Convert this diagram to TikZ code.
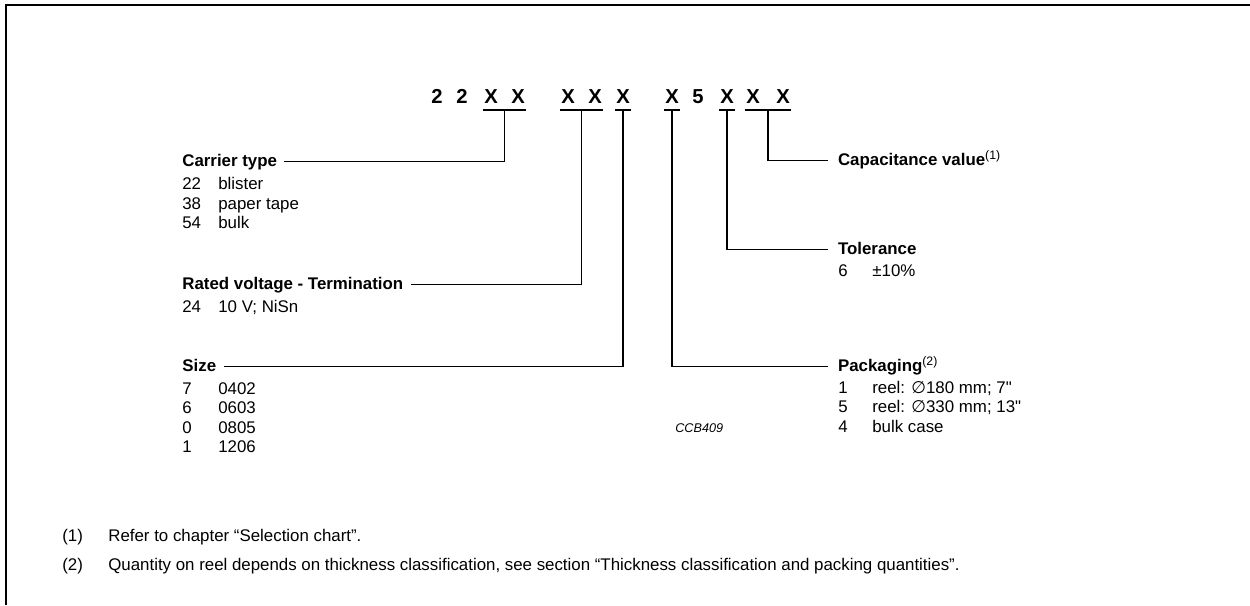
\documentclass[tikz,border=0pt]{standalone}
\usepackage{fontspec}
\setmainfont{Liberation Sans}[Ligatures=TeXOff]
\newfontfamily\symfont{DejaVu Sans}
\usetikzlibrary{positioning,calc}
\tikzset{>=stealth}
\tikzset{
  codechar/.style={inner sep=0pt,anchor=base,font=\fontsize{11.5}{13}\selectfont\bfseries},
  head/.style={anchor=base west,inner ysep=0pt,text height=7pt,text depth=2pt,
    font=\fontsize{9.6}{11}\selectfont\bfseries},
  lhead/.style={head,inner xsep=4pt},
  rhead/.style={head,inner xsep=5.5pt},
  entry/.style={anchor=base west,inner sep=0pt,font=\fontsize{9.6}{11}\selectfont},
  lead/.style={line width=0.6pt},
  frame/.style={line width=1.1pt}
}
\newcommand*{\dia}{{\symfont ∅}}
\newcommand*{\noteref}[1]{\raisebox{3.2pt}{\mdseries\fontsize{7}{8}\selectfont(#1)}}

\begin{document}
\begin{tikzpicture}[x=0.02cm,y=-0.02cm]
\useasboundingbox (0,0) rectangle (1250,605);

% Frame
\draw[frame] (1250,5) -- (6,5) -- (6,605);

% Type number
\foreach \ch/\xx [count=\i] in {2/437,2/462,X/491,X/518,X/568,X/595,X/623,X/672,5/698,X/727,X/753,X/783}
  \node[codechar] (c\i) at (\xx,103) {\ch};

% Underlines below the digit groups
\foreach \a/\b/\n in {3/4/1,5/6/2,7/7/3,8/8/4,10/10/5,11/12/6}{
  \draw[lead] ($(c\a.base west)+(-1,7)$) coordinate (ul\n) -- ($(c\b.base east)+(1,7)$) coordinate (ur\n);
  \coordinate (u\n) at ($(ul\n)!.5!(ur\n)$);
}

% Headings
\node[lhead] (carrier) at (175,166) {Carrier type};
\node[lhead] (rated) at (175,289) {Rated voltage - Termination};
\node[lhead] (size) at (175,371) {Size};
\node[rhead] (capval) at (828,165) {Capacitance value\noteref{1}};
\node[rhead] (tol) at (828,254) {Tolerance};
\node[rhead] (pack) at (828,371) {Packaging\noteref{2}};

% Leaders
\draw[lead] (u1) |- (carrier);
\draw[lead] (u2) |- (rated);
\draw[lead] (u3) |- (size);
\draw[lead] (u4) |- (pack);
\draw[lead] (u5) |- (tol);
\draw[lead] (u6) |- (capval);

% Code lists
\foreach \n/\t [count=\i] in {22/blister,38/paper tape,54/bulk}{
  \node[entry] (cn\i) at (182,{189.5+(\i-1)*19.5}) {\n};
  \node[entry] (ct\i) at (218,{189.5+(\i-1)*19.5}) {\t};
}
\node[entry] (rn1) at (182,312) {24};
\node[entry] (rt1) at (218,312) {10 V; NiSn};
\foreach \n/\t [count=\i] in {7/0402,6/0603,0/0805,1/1206}{
  \node[entry] (sn\i) at (182,{394+(\i-1)*19.5}) {\n};
  \node[entry] (st\i) at (218,{394+(\i-1)*19.5}) {\t};
}
\node[entry] (tn1) at (838,276) {6};
\node[entry] (tt1) at (872,276) {±10\%};
\foreach \n/\t [count=\i] in {1/reel: \dia180 mm; 7",5/reel: \dia330 mm; 13",4/bulk case}{
  \node[entry] (pn\i) at (838,{393+(\i-1)*19.5}) {\n};
  \node[entry] (pt\i) at (872,{393+(\i-1)*19.5}) {\t};
}
\node[anchor=base west,inner sep=0pt,font=\fontsize{7.2}{9}\selectfont\itshape] (ccb) at (675,432) {CCB409};

% Notes
\node[entry] (fn1) at (62,541) {(1)};
\node[entry] (ft1) at (108,541) {Refer to chapter “Selection chart”.};
\node[entry] (fn2) at (62,570) {(2)};
\node[entry] (ft2) at (108,570) {Quantity on reel depends on thickness classification, see section “Thickness classification and packing quantities”.};

\end{tikzpicture}
\end{document}
